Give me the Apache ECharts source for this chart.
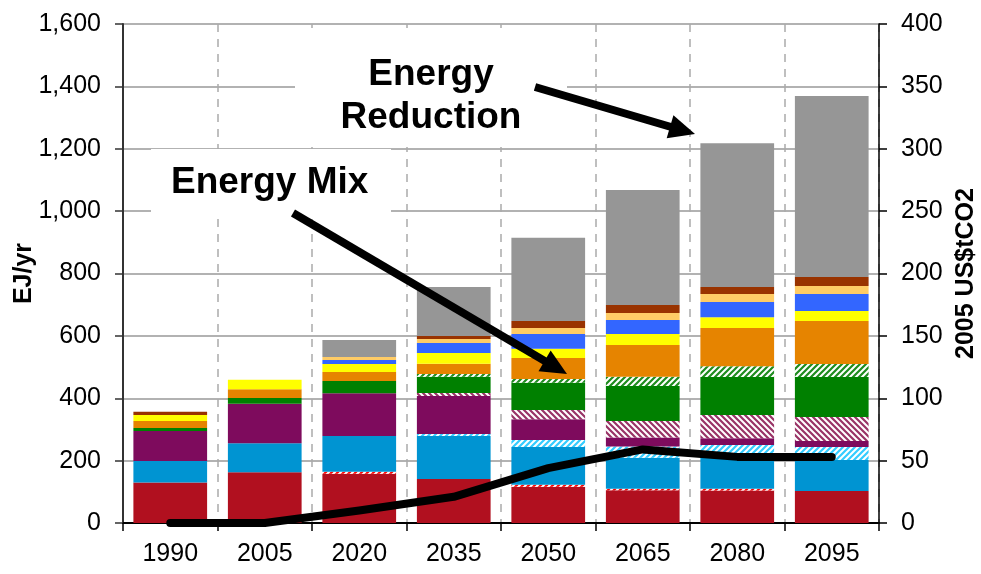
<!DOCTYPE html>
<html>
<head>
<meta charset="utf-8">
<script src="https://cdn.jsdelivr.net/npm/echarts@6/dist/echarts.min.js"></script>
<style>
  html, body { margin: 0; background: #fff; }
  #chart { width: 981px; height: 574px; }
</style>
</head>
<body>
<div id="chart"></div>
<script>
// categories
const years = ['1990', '2005', '2020', '2035', '2050', '2065', '2080', '2095']

// stacked segments, bottom to top (EJ/yr)
const red         = [130, 163, 158, 141, 116, 105, 104, 103]
const redHatch    = [0, 0, 6, 0, 7, 5, 6, 0]
const blue        = [69, 93, 115, 138, 121, 99, 109, 99]
const cyanHatch   = [0, 0, 0, 6, 22, 36, 31, 42]
const purple      = [96, 126, 137, 122, 67, 29, 22, 19]
const purpleHatch = [0, 0, 0, 10, 29, 53, 74, 77]
const green       = [10, 19, 39, 52, 88, 112, 122, 128]
const greenHatch  = [0, 0, 0, 9, 12, 30, 35, 42]
const orange      = [22, 28, 29, 33, 67, 102, 122, 138]
const yellow      = [19, 30, 26, 34, 30, 35, 35, 32]
const royalBlue   = [0, 0, 13, 32, 47, 45, 49, 54]
const lightOrange = [0, 0, 9, 13, 19, 22, 25, 26]
const brown       = [11, 0, 0, 10, 23, 26, 23, 29]
const reduction   = [0, 0, 55, 157, 267, 369, 461, 580]

// carbon price (2005 US$/tCO2), right axis
const carbonPrice = [0, 0, 10, 21, 44, 59, 53, 53]

const leftTicks = { min: 0, max: 1600, interval: 200 }
const rightTicks = { min: 0, max: 400, interval: 50 }

const FONT = 'Liberation Sans, Arial, sans-serif'

// diagonal stripe fill on white
const hatch = (color, dir) => {
  const s = 6
  const c = document.createElement('canvas')
  c.width = c.height = s
  const g = c.getContext('2d')
  g.fillStyle = '#fff'
  g.fillRect(0, 0, s, s)
  g.strokeStyle = color
  g.lineWidth = 2.2
  g.beginPath()
  if (dir === '/') {
    g.moveTo(0, s); g.lineTo(s, 0)
    g.moveTo(-s / 2, s / 2); g.lineTo(s / 2, -s / 2)
    g.moveTo(s / 2, s * 1.5); g.lineTo(s * 1.5, s / 2)
  } else {
    g.moveTo(0, 0); g.lineTo(s, s)
    g.moveTo(-s / 2, s / 2); g.lineTo(s / 2, s * 1.5)
    g.moveTo(s / 2, -s / 2); g.lineTo(s * 1.5, s / 2)
  }
  g.stroke()
  return { image: c, repeat: 'repeat' }
}

const segments = [
  ['red', red, '#B1101F'],
  ['redHatch', redHatch, hatch('#FF0000', '/')],
  ['blue', blue, '#0094D2'],
  ['cyanHatch', cyanHatch, hatch('#33CCFF', '/')],
  ['purple', purple, '#7E0B5D'],
  ['purpleHatch', purpleHatch, hatch('#993366', '\\')],
  ['green', green, '#008000'],
  ['greenHatch', greenHatch, hatch('#1E8C1E', '/')],
  ['orange', orange, '#E68400'],
  ['yellow', yellow, '#FFFF00'],
  ['royalBlue', royalBlue, '#3366FF'],
  ['lightOrange', lightOrange, '#FFCC66'],
  ['brown', brown, '#993300'],
  ['reduction', reduction, '#969696']
]

const chart = echarts.init(document.getElementById('chart'))

// arrow = shaft + triangular head
const arrow = (x1, y1, x2, y2) => {
  const dx = x2 - x1, dy = y2 - y1
  const len = Math.hypot(dx, dy)
  const ux = dx / len, uy = dy / len
  const head = 26, half = 12
  const bx = x2 - ux * head, by = y2 - uy * head
  return [
    {
      type: 'line', z: 60,
      shape: { x1, y1, x2: bx + ux * 2, y2: by + uy * 2 },
      style: { stroke: '#000', lineWidth: 8 }
    },
    {
      type: 'polygon', z: 60,
      shape: { points: [[x2, y2], [bx - uy * half, by + ux * half], [bx + uy * half, by - ux * half]] },
      style: { fill: '#000' }
    }
  ]
}

const option = {
  animation: false,
  backgroundColor: '#fff',
  grid: { left: 123, right: 102, top: 24, bottom: 51, containLabel: false, outerBoundsMode: 'none' },
  xAxis: {
    type: 'category',
    data: years,
    axisLine: { lineStyle: { color: '#000', width: 2 } },
    axisTick: { show: true, interval: 0, length: 8, lineStyle: { color: '#000', width: 1.5 } },
    axisLabel: { color: '#000', fontSize: 25, fontFamily: FONT, margin: 19 },
    splitLine: { show: true, interval: 0, lineStyle: { color: '#AAAAAA', width: 1.5, type: [8, 7] } }
  },
  yAxis: [
    {
      type: 'value',
      ...leftTicks,
      name: 'EJ/yr',
      nameLocation: 'middle',
      nameRotate: 90,
      nameGap: 86,
      nameMoveOverlap: false,
      nameTextStyle: { color: '#000', fontSize: 25, fontWeight: 'bold', fontFamily: FONT },
      axisLine: { show: true, lineStyle: { color: '#333', width: 2 } },
      axisTick: { show: true, length: 8, lineStyle: { color: '#333', width: 1.5 } },
      axisLabel: {
        color: '#000', fontSize: 25, fontFamily: FONT, margin: 22,
        formatter: v => v.toLocaleString('en-US')
      },
      splitLine: { show: true, lineStyle: { color: '#999', width: 1.5 } }
    },
    {
      type: 'value',
      ...rightTicks,
      position: 'right',
      name: '2005 US$tCO2',
      nameLocation: 'middle',
      nameRotate: 90,
      nameGap: 75,
      nameMoveOverlap: false,
      nameTextStyle: { color: '#000', fontSize: 25, fontWeight: 'bold', fontFamily: FONT },
      axisLine: { show: true, lineStyle: { color: '#000', width: 1.5 } },
      axisTick: { show: true, length: 8, lineStyle: { color: '#000', width: 1.5 } },
      axisLabel: { color: '#000', fontSize: 25, fontFamily: FONT, margin: 22 },
      splitLine: { show: false }
    }
  ],
  series: [
    ...segments.map(([name, data, color]) => ({
      name,
      type: 'bar',
      stack: 'total',
      barWidth: '78%',
      data,
      silent: true,
      itemStyle: { color }
    })),
    {
      name: 'carbonPrice',
      type: 'line',
      yAxisIndex: 1,
      data: carbonPrice,
      symbol: 'none',
      silent: true,
      z: 10,
      lineStyle: { color: '#000', width: 8, cap: 'round', join: 'round' }
    }
  ],
  graphic: [
    { type: 'rect', z: 50, shape: { x: 295, y: 28, width: 272, height: 119 }, style: { fill: '#fff' } },
    { type: 'rect', z: 50, shape: { x: 151, y: 149, width: 240, height: 63 }, style: { fill: '#fff' } },
    {
      type: 'text', z: 55, x: 431, y: 53,
      style: {
        text: 'Energy\nReduction', align: 'center', verticalAlign: 'top',
        font: 'bold 37px ' + FONT, lineHeight: 43, fill: '#000'
      }
    },
    {
      type: 'text', z: 55, x: 171, y: 164,
      style: { text: 'Energy Mix', verticalAlign: 'top', font: 'bold 37px ' + FONT, fill: '#000' }
    },
    ...arrow(293, 213, 567, 374),
    ...arrow(535, 87, 695, 134)
  ]
}

chart.setOption(option)
</script>
</body>
</html>
